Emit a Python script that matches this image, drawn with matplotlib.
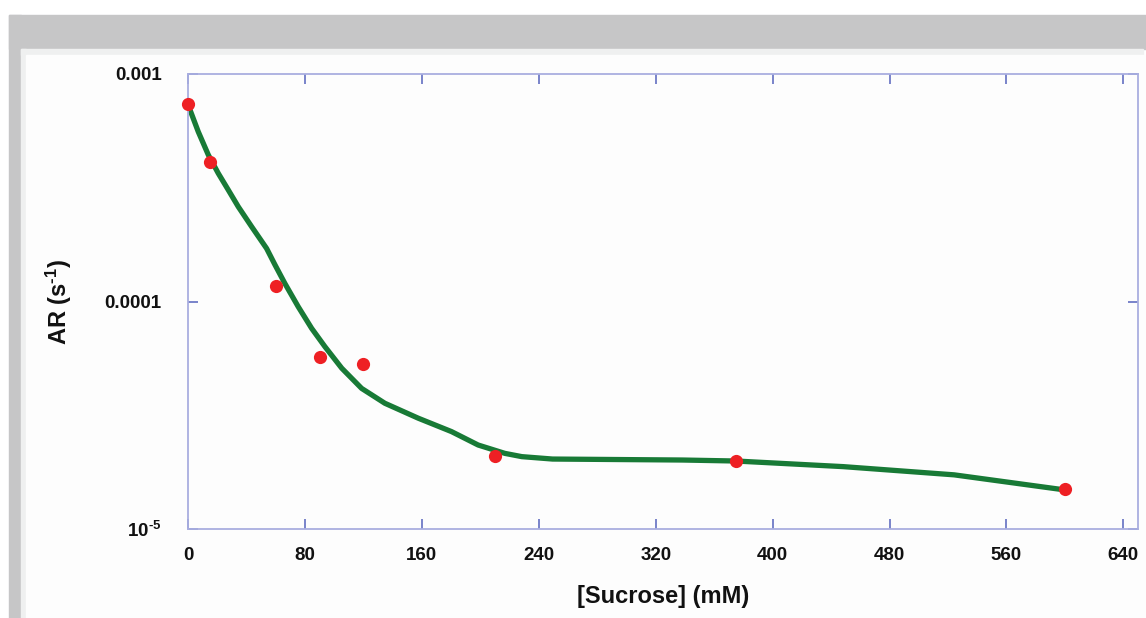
# AR vs sucrose concentration

import numpy as np
import matplotlib
matplotlib.use("Agg")
import matplotlib.pyplot as plt
from matplotlib.patches import Rectangle

# measured points
sucrose = [0, 15, 60, 90, 120, 210, 375, 600]
ar = [7.38e-4, 4.1e-4, 1.17e-4, 5.7e-5, 5.3e-5, 2.09e-5, 1.99e-5, 1.5e-5]

# fitted curve
fit_x = [0, 1.4, 7.0, 13.9, 20.7, 27.6, 34.4, 43.6, 53.8, 59.5, 66.3, 75.4,
         84.6, 93.7, 105.2, 118.8, 134.7, 157.5, 180.3, 198.5, 216.8, 228.4,
         249.4, 338.3, 374.9, 448.3, 524.2, 598.3]
fit_y = [7.38e-4, 6.95e-4, 5.58e-4, 4.41e-4, 3.66e-4, 3.09e-4, 2.61e-4, 2.13e-4,
         1.71e-4, 1.45e-4, 1.20e-4, 9.49e-5, 7.62e-5, 6.33e-5, 5.09e-5, 4.15e-5,
         3.57e-5, 3.07e-5, 2.68e-5, 2.34e-5, 2.15e-5, 2.08e-5, 2.03e-5, 2.01e-5,
         1.99e-5, 1.88e-5, 1.73e-5, 1.49e-5]

x_ticks = [0, 80, 160, 240, 320, 400, 480, 560, 640]
y_ticks = [1e-5, 1e-4, 1e-3]
y_tick_labels = [r"10$^{\text{-5}}$", "0.0001", "0.001"]

plt.rcParams["font.family"] = "Liberation Sans"
plt.rcParams["font.weight"] = "bold"
plt.rcParams["mathtext.fontset"] = "custom"
plt.rcParams["mathtext.rm"] = "Liberation Sans:bold"
plt.rcParams["mathtext.bf"] = "Liberation Sans:bold"
plt.rcParams["mathtext.default"] = "bf"

W, H = 1146, 618
fig = plt.figure(figsize=(W / 100, H / 100), dpi=100)
fig.patch.set_facecolor("white")

def box(x0, y0, x1, y1, color):
    # pixel box, top-left origin
    fig.patches.append(Rectangle((x0 / W, 1 - y1 / H), (x1 - x0) / W, (y1 - y0) / H,
                                 transform=fig.transFigure, color=color, zorder=-10))

box(9, 15, 1146, 49, "#c6c6c7")
box(9, 15, 21, 618, "#c6c6c7")
box(21, 49, 1143, 55, "#eff0f0")
box(21, 49, 26, 618, "#eff0f0")
box(26, 55, 1146, 618, "#fdfdfd")

ax = fig.add_axes([188 / W, 1 - 529 / H, (1138 - 188) / W, (529 - 74) / H])
ax.set_facecolor("#fdfdfd")

ax.plot(fit_x, fit_y, color="#187a36", lw=3.8, solid_capstyle="round",
        solid_joinstyle="round", zorder=2)
ax.plot(sucrose, ar, "o", color="#ee2024", ms=9.5, mec="none", zorder=3, clip_on=False)

ax.set_yscale("log")
ax.set_xlim(0, 650)
ax.set_ylim(1e-5, 1e-3)
ax.set_xticks(x_ticks)
ax.set_yticks(y_ticks)
ax.set_yticklabels(y_tick_labels)
ax.yaxis.set_minor_locator(matplotlib.ticker.NullLocator())

for s in ax.spines.values():
    s.set_color("#a9aee0")
    s.set_linewidth(1.3)

ax.tick_params(axis="both", direction="in", color="#6f7ac6", width=1.3, length=7,
               labelsize=13.5, labelcolor="#111111")
ax.tick_params(axis="x", top=True, pad=13)
ax.tick_params(axis="y", right=True, pad=19)

ax.set_xlabel("[Sucrose] (mM)", fontsize=17, fontweight="bold", labelpad=15, color="#111111")
ax.set_ylabel("AR (s$^{\\text{-1}}$)", fontsize=17, fontweight="bold", labelpad=22,
              color="#111111")

fig.savefig("out.png", dpi=100)
